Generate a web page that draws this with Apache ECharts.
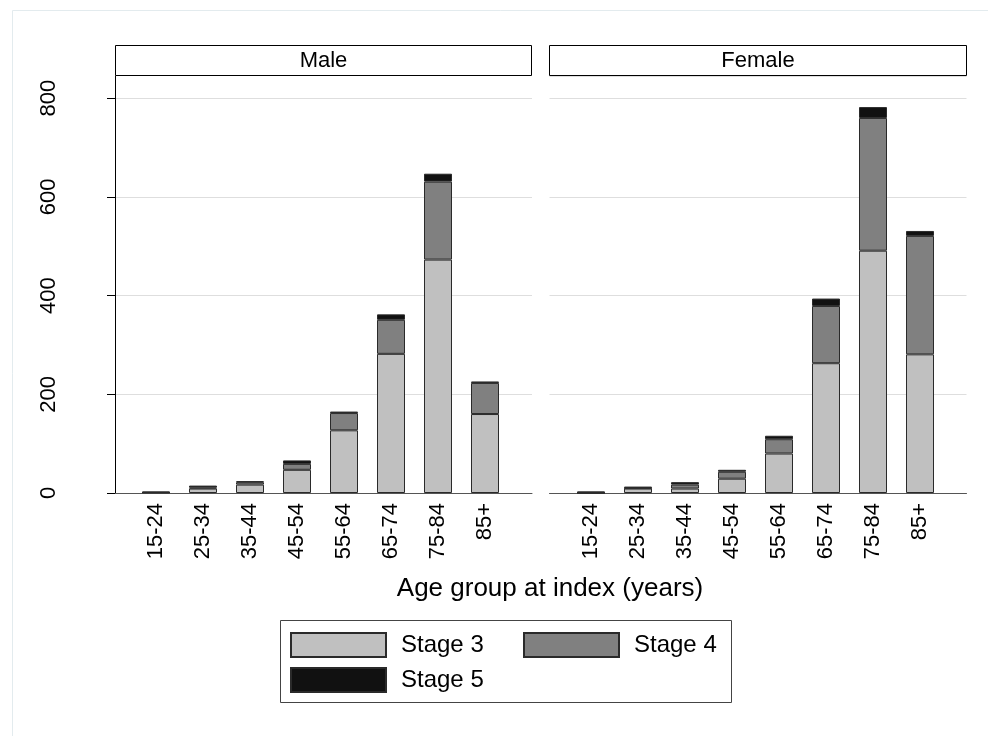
<!DOCTYPE html>
<html>
<head>
<meta charset="utf-8">
<script src="https://cdn.jsdelivr.net/npm/echarts@6/dist/echarts.min.js"></script>
<style>
  html, body { margin: 0; padding: 0; background: #fff; }
  #chart { width: 988px; height: 736px; }
</style>
</head>
<body>
<div id="chart"></div>
<script>
var ages = ['15-24', '25-34', '35-44', '45-54', '55-64', '65-74', '75-84', '85+'];
var yTicks = [0, 200, 400, 600, 800];

var maleStage3 = [1, 9, 17, 47, 127, 282, 473, 160];
var maleStage4 = [0, 2, 5, 12, 35, 69, 158, 63];
var maleStage5 = [2, 4, 2, 7, 3, 11, 16, 3];

var femaleStage3 = [0, 9, 9, 29, 80, 263, 491, 281];
var femaleStage4 = [1, 1, 8, 14, 29, 116, 269, 240];
var femaleStage5 = [2, 3, 5, 4, 7, 15, 22, 10];

var stageNames = ['Stage 3', 'Stage 4', 'Stage 5'];
var stageColors = ['#c0c0c0', '#808080', '#111111'];

var font = "'Liberation Sans', Arial, Helvetica, sans-serif";
var yMax = 845;

var chart = echarts.init(document.getElementById('chart'));

function bgX(idx) {
    return {
        type: 'value', gridIndex: idx, min: 0, max: 1,
        axisLine: { show: true, onZero: false, lineStyle: { color: '#555', width: 1 } },
        axisTick: { show: false }, axisLabel: { show: false }, splitLine: { show: false }
    };
}
function barX(idx) {
    return {
        type: 'category', gridIndex: idx, data: ages,
        axisLine: { show: false }, axisTick: { show: false },
        axisLabel: { rotate: 90, margin: 10, fontSize: 22, color: '#000', fontFamily: font }
    };
}
function hiddenY(idx) {
    return { type: 'value', gridIndex: idx, min: 0, max: yMax, show: false };
}

function stageSeries(values, i, xi, yi, stack) {
    return {
        name: stageNames[i], type: 'bar', stack: stack,
        xAxisIndex: xi, yAxisIndex: yi,
        barWidth: 28,
        itemStyle: { color: stageColors[i], borderColor: '#2a2a2a', borderWidth: 1 },
        emphasis: { disabled: true },
        data: values
    };
}

var option = {
    backgroundColor: '#fff',
    animation: false,
    grid: [
        { left: 115, top: 76, width: 417, height: 417 },
        { left: 132.5, top: 76, width: 376, height: 417 },
        { left: 549.5, top: 76, width: 417, height: 417 },
        { left: 567.5, top: 76, width: 376, height: 417 }
    ],
    xAxis: [bgX(0), barX(1), bgX(2), barX(3)],
    yAxis: [
        {
            type: 'value', gridIndex: 0, min: 0, max: yMax, interval: 200,
            axisLine: { show: true, lineStyle: { color: '#000', width: 1 } },
            axisTick: { show: true, length: 8, customValues: yTicks, lineStyle: { color: '#000' } },
            axisLabel: {
                rotate: 90, margin: 55, fontSize: 22, color: '#000', fontFamily: font,
                customValues: yTicks
            },
            splitLine: { show: true, lineStyle: { color: '#dedede', width: 1 } }
        },
        hiddenY(1),
        {
            type: 'value', gridIndex: 2, min: 0, max: yMax, interval: 200,
            axisLine: { show: false }, axisTick: { show: false }, axisLabel: { show: false },
            splitLine: { show: true, lineStyle: { color: '#dedede', width: 1 } }
        },
        hiddenY(3)
    ],
    legend: [
        { data: ['Stage 3'], left: 290, top: 632 },
        { data: ['Stage 4'], left: 523, top: 632 },
        { data: ['Stage 5'], left: 290, top: 667 }
    ].map(function (l) {
        l.padding = 0;
        l.itemWidth = 95;
        l.itemHeight = 24;
        l.icon = 'rect';
        l.selectedMode = false;
        l.textStyle = { fontSize: 24, color: '#000', fontFamily: font, padding: [0, 0, 0, 10] };
        return l;
    }),
    graphic: [
        { type: 'rect', shape: { x: 12.5, y: 10.5, width: 1000, height: 800 },
          style: { fill: 'none', stroke: '#e3ebee', lineWidth: 1 }, silent: true },
        { type: 'rect', shape: { x: 115.5, y: 45.5, width: 416, height: 30 },
          style: { fill: '#fff', stroke: '#000', lineWidth: 1 }, z: 10 },
        { type: 'text', x: 323.5, y: 61, z: 11,
          style: { text: 'Male', fontSize: 22, fontFamily: font, fill: '#000', align: 'center', verticalAlign: 'middle' } },
        { type: 'rect', shape: { x: 549.5, y: 45.5, width: 417, height: 30 },
          style: { fill: '#fff', stroke: '#000', lineWidth: 1 }, z: 10 },
        { type: 'text', x: 758, y: 61, z: 11,
          style: { text: 'Female', fontSize: 22, fontFamily: font, fill: '#000', align: 'center', verticalAlign: 'middle' } },
        { type: 'text', x: 550, y: 589,
          style: { text: 'Age group at index (years)', fontSize: 26, fontFamily: font, fill: '#000', align: 'center', verticalAlign: 'middle' } },
        { type: 'rect', shape: { x: 280.5, y: 620.5, width: 451, height: 82 },
          style: { fill: 'none', stroke: '#444', lineWidth: 1 } }
    ],
    series: [
        stageSeries(maleStage3, 0, 1, 1, 'male'),
        stageSeries(maleStage4, 1, 1, 1, 'male'),
        stageSeries(maleStage5, 2, 1, 1, 'male'),
        stageSeries(femaleStage3, 0, 3, 3, 'female'),
        stageSeries(femaleStage4, 1, 3, 3, 'female'),
        stageSeries(femaleStage5, 2, 3, 3, 'female')
    ]
};

chart.setOption(option);
window.addEventListener('resize', chart.resize);
</script>
</body>
</html>
